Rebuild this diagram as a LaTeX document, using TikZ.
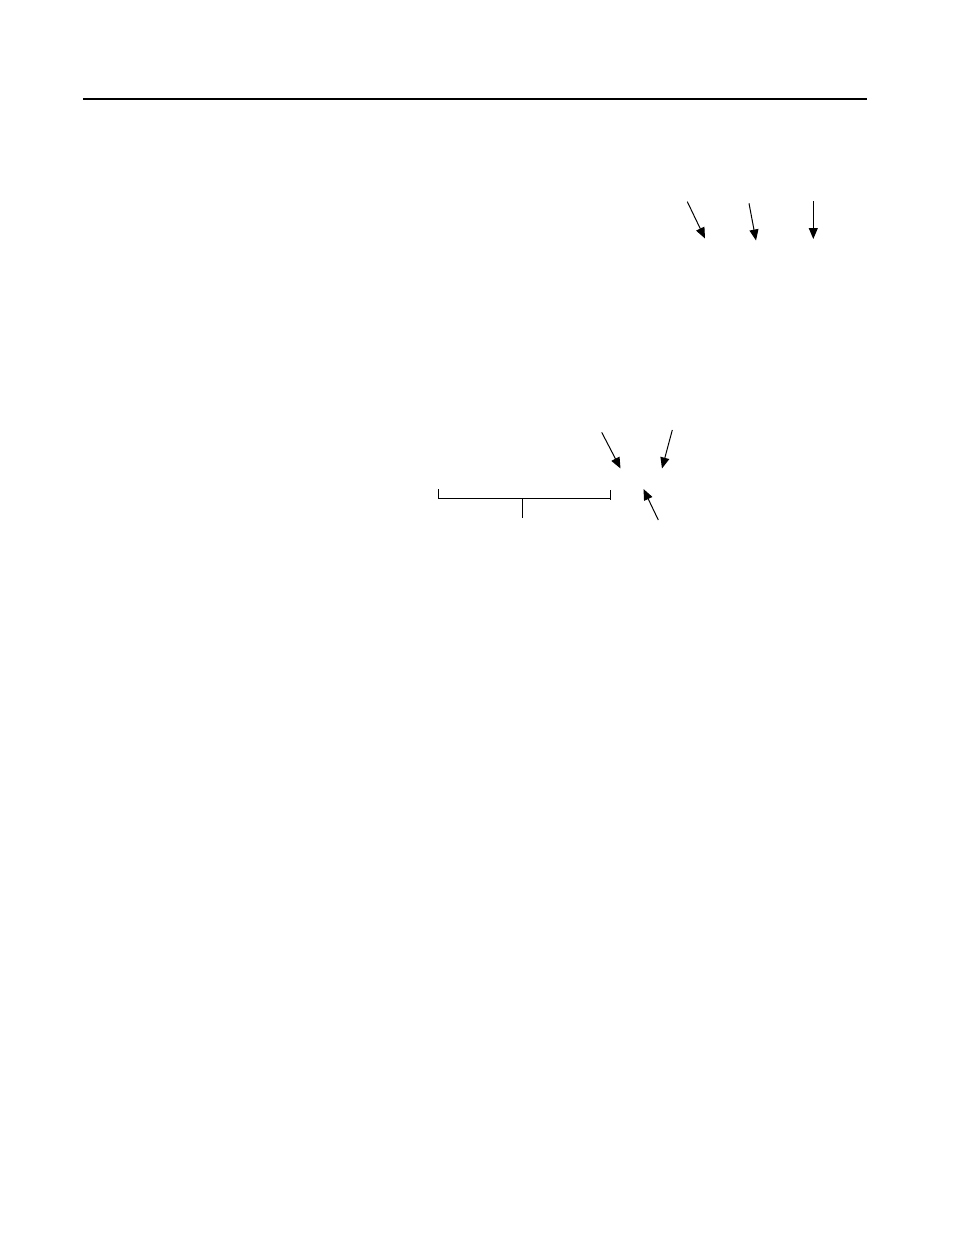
\documentclass[tikz,border=0pt]{standalone}
\usetikzlibrary{arrows.meta}
\begin{document}
\begin{tikzpicture}[x=1pt,y=-1pt,
  rule/.style={line width=1.2pt},
  pointer/.style={line width=1pt,-{Triangle[length=11pt,width=9pt]}},
  brack/.style={line width=0.9pt}]
\useasboundingbox (0,0) rectangle (954,1235);
% top rule
\coordinate (rl) at (83,99);
\coordinate (rr) at (867,99);
\draw[rule] (rl) -- (rr);
% top arrows
\coordinate (a1s) at (687.3,201.7); \coordinate (a1e) at (705,238.5);
\coordinate (a2s) at (749,203.3);   \coordinate (a2e) at (756,240.5);
\coordinate (a3s) at (813.3,201);   \coordinate (a3e) at (813.3,239);
\draw[pointer] (a1s) -- (a1e);
\draw[pointer] (a2s) -- (a2e);
\draw[pointer] (a3s) -- (a3e);
% lower arrows
\coordinate (b1s) at (601.7,432.3); \coordinate (b1e) at (620.5,468.5);
\coordinate (b2s) at (672.3,430);   \coordinate (b2e) at (662,468.5);
\coordinate (b3s) at (658.3,520);   \coordinate (b3e) at (643.5,489);
\draw[pointer] (b1s) -- (b1e);
\draw[pointer] (b2s) -- (b2e);
\draw[pointer] (b3s) -- (b3e);
% bracket
\coordinate (kl) at (438.5,498.3);
\coordinate (kr) at (610.5,498.3);
\coordinate (kc) at (522.3,498.3);
\coordinate (kb) at (522.3,518.3);
\draw[brack] (438.5,489) -- (kl) -- (kr) -- (610.5,489.5);
\draw[brack] (kr) -- (610.5,499.8);
\draw[brack] (kc) -- (kb);
\end{tikzpicture}
\end{document}
